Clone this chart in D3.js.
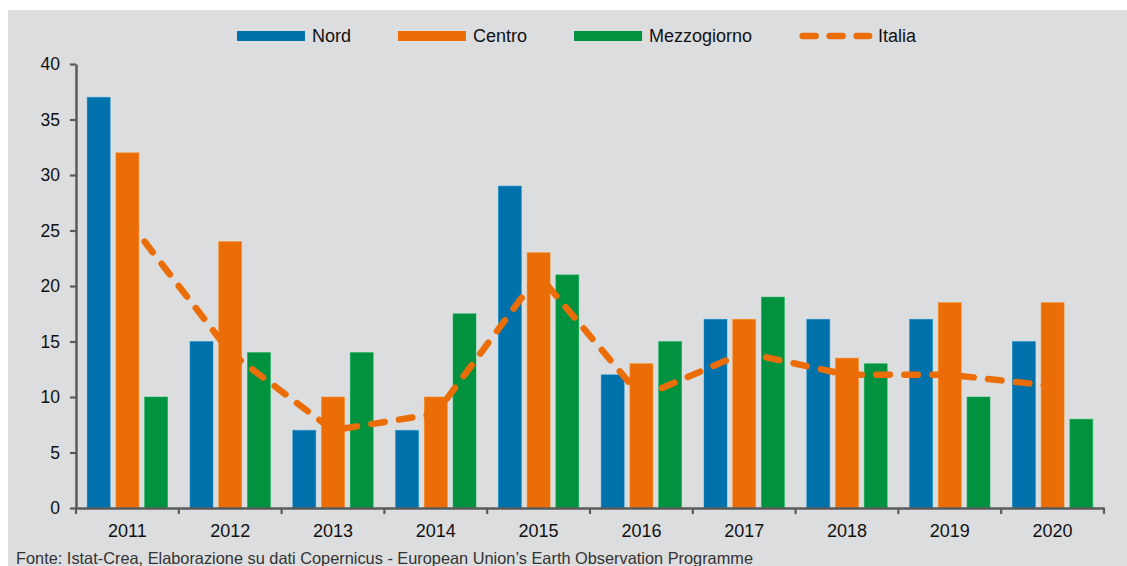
<!DOCTYPE html>
<html><head><meta charset="utf-8">
<script src="https://cdn.jsdelivr.net/npm/d3@7"></script>
<style>
html,body{margin:0;padding:0;background:#fff;}
svg{display:block;font-family:"Liberation Sans",Arial,sans-serif;}
</style></head>
<body><svg id="c" width="1127" height="566"></svg>
<script>
const years = ["2011","2012","2013","2014","2015","2016","2017","2018","2019","2020"];
const seriesNames = ["Nord","Centro","Mezzogiorno"];
const nord = [37,15,7,7,29,12,17,17,17,15];
const centro = [32,24,10,10,23,13,17,13.5,18.5,18.5];
const mezzogiorno = [10,14,14,17.5,21,15,19,13,10,8];
const italia = [26,14,7,8.5,21,10,14,12,12,11];
const yTicks = [0,5,10,15,20,25,30,35,40];
const lineName = "Italia";
const source = "Fonte: Istat-Crea, Elaborazione su dati Copernicus - European Union\u2019s Earth Observation Programme";

const colors = {Nord:"#0071AA", Centro:"#EB6D08", Mezzogiorno:"#00923F"};
const seriesData = {Nord:nord, Centro:centro, Mezzogiorno:mezzogiorno};

const svg = d3.select("#c");
svg.append("rect").attr("x",8).attr("y",10).attr("width",1127-8).attr("height",566-10).attr("fill","#DCDDDF");

const x = d3.scaleBand().domain(years).range([76,1104]).padding(0);
const xi = d3.scaleBand().domain(seriesNames).range([0,x.bandwidth()]).paddingInner(0.2).paddingOuter(0.39);
const y = d3.scaleLinear().domain([0,40]).range([508,64]);

// bars
const g = svg.append("g");
years.forEach((yr,i)=>{
  seriesNames.forEach(s=>{
    const v = seriesData[s][i];
    g.append("rect")
      .attr("x", x(yr)+xi(s)).attr("width", xi.bandwidth())
      .attr("y", y(v)).attr("height", y(0)-y(v))
      .attr("fill", colors[s])
      .attr("stroke", d3.color(colors[s]).brighter(0.6)).attr("stroke-width",0.8).attr("stroke-opacity",0.6);
  });
});

// y axis
const yAxis = svg.append("g").attr("transform","translate(76,0)")
  .call(d3.axisLeft(y).tickValues(yTicks).tickSize(6).tickSizeOuter(0).tickPadding(10));
yAxis.selectAll("text").attr("font-size",17.5).attr("fill","#111").attr("font-family","Liberation Sans, Arial, sans-serif");
yAxis.selectAll("line").attr("stroke","#5a5a5a").attr("stroke-width",2.2);
yAxis.select(".domain").attr("stroke","#5a5a5a").attr("stroke-width",2.5);

// x axis
const xAxis = svg.append("g").attr("transform","translate(0,508)")
  .call(d3.axisBottom(x).tickSize(0).tickSizeOuter(0).tickPadding(16.5));
xAxis.selectAll("text").attr("font-size",18).attr("fill","#111").attr("font-family","Liberation Sans, Arial, sans-serif");
xAxis.select(".domain").attr("stroke","#5a5a5a").attr("stroke-width",2.5);
const bounds = years.map(d=>x(d)).concat([x.range()[1]]);
xAxis.selectAll(".btick").data(bounds).enter().append("line")
  .attr("x1",d=>d).attr("x2",d=>d).attr("y1",0).attr("y2",6)
  .attr("stroke","#5a5a5a").attr("stroke-width",2.2);

// Italia line
const line = d3.line().x((d,i)=>x(years[i])+x.bandwidth()/2).y(d=>y(d));
svg.append("path").datum(italia).attr("d",line)
  .attr("fill","none").attr("stroke","#EB6D08").attr("stroke-width",6.5)
  .attr("stroke-linecap","round").attr("stroke-linejoin","round")
  .attr("stroke-dasharray","13.5 14.5");

// legend
const leg = svg.append("g").attr("font-size",18).attr("fill","#111");
let lx = 237;
const swW = 68, ly = 36;
seriesNames.concat([lineName]).forEach(name=>{
  if(name===lineName){
    leg.append("line").attr("x1",lx+3.5).attr("x2",lx+70).attr("y1",ly).attr("y2",ly)
      .attr("stroke","#EB6D08").attr("stroke-width",6.5).attr("stroke-linecap","round")
      .attr("stroke-dasharray","13 14");
    leg.append("text").attr("x",lx+79).attr("y",42).text(name);
  } else {
    leg.append("rect").attr("x",lx).attr("y",31).attr("width",swW).attr("height",10).attr("fill",colors[name]);
    const t = leg.append("text").attr("x",lx+swW+7).attr("y",42).text(name);
    lx = lx + swW + 7 + t.node().getComputedTextLength() + 47;
  }
});

// source
svg.append("text").attr("x",16).attr("y",564).attr("font-size",16.5).attr("fill","#333")
  .attr("font-family","Liberation Sans Narrow, Arial Narrow, Liberation Sans, sans-serif")
  .attr("textLength",737).attr("lengthAdjust","spacingAndGlyphs").text(source);
</script></body></html>
